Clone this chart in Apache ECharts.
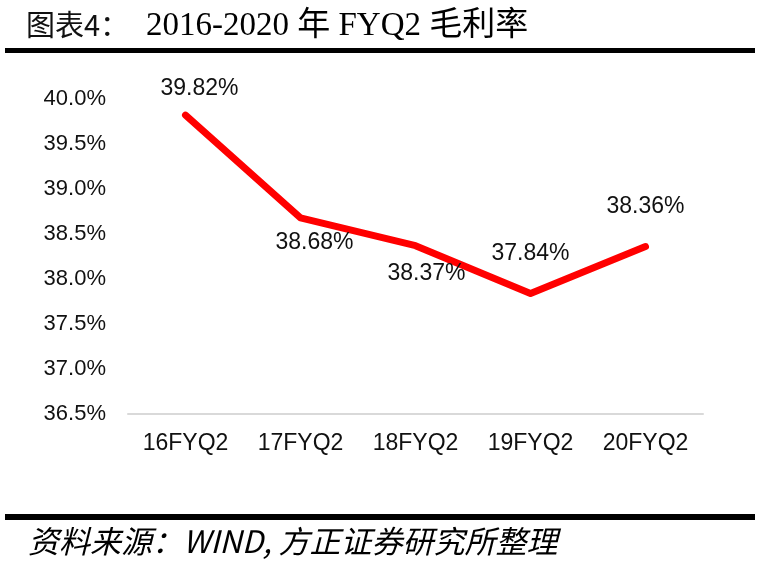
<!DOCTYPE html>
<html lang="zh">
<head>
    <meta charset="UTF-8">
    <title>FYQ2 毛利率</title>
    <script type="text/javascript" src="https://cdn.jsdelivr.net/npm/echarts@6/dist/echarts.min.js"></script>
</head>
<body>
<div id="chart"></div>
</body>
<style>
    * {
        padding: 0;
        margin: 0;
    }

    html, body {
        width: 100%;
        height: 100%;
        background-color: white;
    }

    #chart {
        width: 768px;
        height: 565px;
    }
</style>
<script>

    // data
    const categories = ["16FYQ2", "17FYQ2", "18FYQ2", "19FYQ2", "20FYQ2"]
    const margins = [39.82, 38.68, 38.37, 37.84, 38.36]
    const yTicks = {min: 36.5, max: 40.0, step: 0.5}

    // where each value label sits, relative to its point
    const labelOffsets = [[14, -27], [14, 25], [11, 28], [0, -40], [0, -40]]

    const sans = "'Liberation Sans', Arial, sans-serif"
    const serif = "'Liberation Serif', 'Noto Sans CJK SC', serif"

    let chart = echarts.init(document.getElementById("chart"))

    let points = margins.map((v, i) => ({
        value: v,
        label: {offset: labelOffsets[i]}
    }))

    let option = {
        animation: false,
        backgroundColor: "#fff",
        grid: {left: 128, right: 65, top: 99, bottom: 151},
        xAxis: {
            type: "category",
            data: categories,
            boundaryGap: true,
            axisLine: {lineStyle: {color: "#d9d9d9", width: 2}},
            axisTick: {show: false},
            axisLabel: {
                interval: 0,
                color: "#111",
                fontFamily: sans,
                fontSize: 23,
                margin: 18
            }
        },
        yAxis: {
            type: "value",
            min: yTicks.min,
            max: yTicks.max,
            interval: yTicks.step,
            axisLine: {show: false},
            axisTick: {show: false},
            splitLine: {show: false},
            axisLabel: {
                color: "#111",
                fontFamily: sans,
                fontSize: 22,
                margin: 22,
                formatter: v => v.toFixed(1) + "%"
            }
        },
        series: [{
            type: "line",
            data: points,
            symbol: "circle",
            symbolSize: 1,
            itemStyle: {color: "#ff0000"},
            lineStyle: {color: "#ff0000", width: 7, cap: "round", join: "round"},
            label: {
                show: true,
                position: "inside",
                color: "#111",
                fontFamily: sans,
                fontSize: 23,
                formatter: p => p.value.toFixed(2) + "%"
            }
        }],
        graphic: [
            {
                type: "text", left: 26, top: 10,
                style: {text: "图表4：", font: "29px 'Noto Sans CJK SC'", fill: "#111"}
            },
            {
                type: "text", left: 146, top: 10,
                style: {text: "2016-2020 年 FYQ2 毛利率", font: "33px " + serif, fill: "#000"}
            },
            {
                type: "rect", shape: {x: 5, y: 48, width: 750, height: 5},
                style: {fill: "#000"}
            },
            {
                type: "rect", shape: {x: 5, y: 514, width: 750, height: 6},
                style: {fill: "#000"}
            },
            {
                type: "text", left: 28, top: 526,
                style: {
                    text: "资料来源：WIND, 方正证券研究所整理",
                    font: "italic 31px 'Noto Sans CJK SC'",
                    fill: "#000"
                }
            }
        ]
    }

    chart.setOption(option)

</script>
</html>
